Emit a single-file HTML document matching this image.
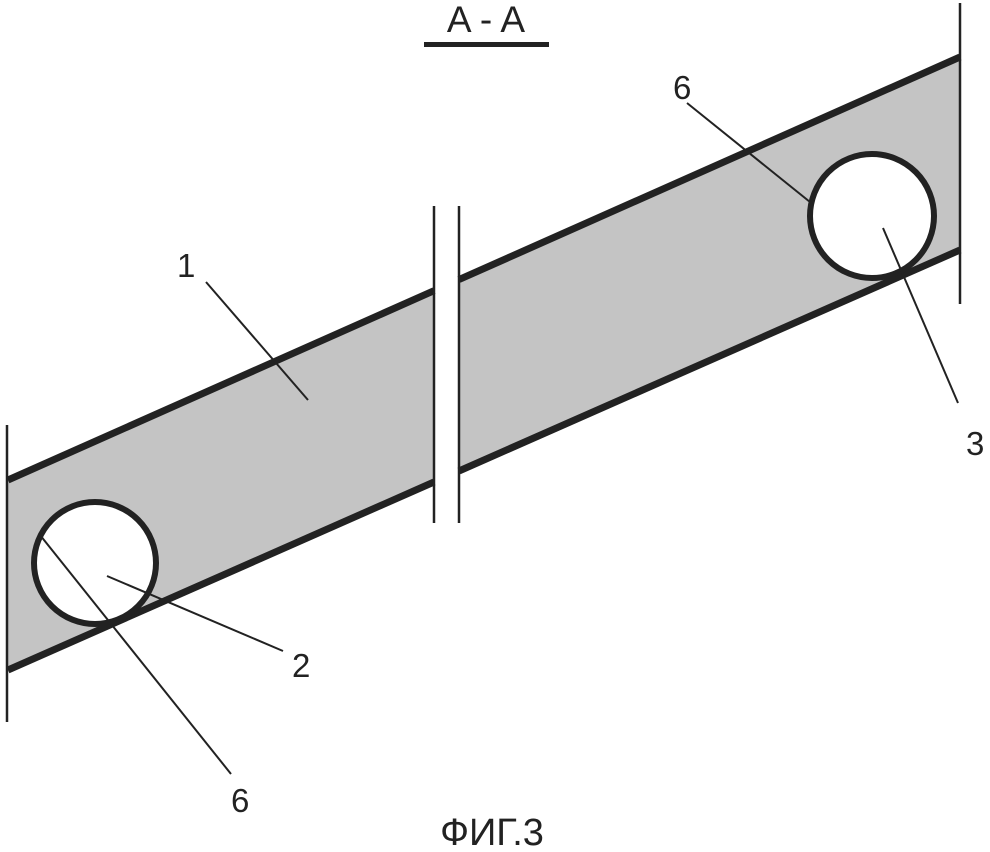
<!DOCTYPE html>
<html><head><meta charset="utf-8"><style>
html,body{margin:0;padding:0;background:#fff;}
svg{display:block;}
text{font-family:"Liberation Sans",sans-serif;fill:#222;}
</style></head><body>
<svg width="990" height="852" viewBox="0 0 990 852" xmlns="http://www.w3.org/2000/svg">
<rect width="990" height="852" fill="#fff"/>
<polygon points="8,480 434,290.7 434,482 8,670" fill="#c4c4c4"/>
<polygon points="459,279.6 960,57 960,250 459,471" fill="#c4c4c4"/>
<g stroke="#222" stroke-width="7" stroke-linecap="butt">
<line x1="8" y1="480" x2="434" y2="290.7"/>
<line x1="8" y1="670" x2="434" y2="482"/>
<line x1="459" y1="279.6" x2="960" y2="57"/>
<line x1="459" y1="471" x2="960" y2="250"/>
</g>
<circle cx="95" cy="563" r="61" fill="#fff" stroke="#222" stroke-width="6"/>
<circle cx="872" cy="216" r="62" fill="#fff" stroke="#222" stroke-width="6"/>
<g stroke="#222" stroke-width="2.5">
<line x1="7" y1="425" x2="7" y2="722"/>
<line x1="960" y1="3" x2="960" y2="304"/>
<line x1="434" y1="206" x2="434" y2="523"/>
<line x1="459" y1="206" x2="459" y2="523"/>
</g>
<g stroke="#222" stroke-width="2">
<line x1="206" y1="282" x2="308" y2="400"/>
<line x1="687" y1="103" x2="810" y2="202"/>
<line x1="883" y1="228" x2="958" y2="403"/>
<line x1="107" y1="576" x2="283" y2="651"/>
<line x1="40" y1="535" x2="231" y2="774"/>
</g>
<text x="177" y="277" font-size="33">1</text>
<text x="673" y="99" font-size="33">6</text>
<text x="966" y="455" font-size="33">3</text>
<text x="292" y="677" font-size="33">2</text>
<text x="231" y="812" font-size="33">6</text>
<text x="486" y="32" font-size="37" text-anchor="middle">A - A</text>
<rect x="424" y="42" width="125" height="5" fill="#222"/>
<text x="492" y="845" font-size="38" text-anchor="middle">ФИГ.3</text>
</svg>
</body></html>
